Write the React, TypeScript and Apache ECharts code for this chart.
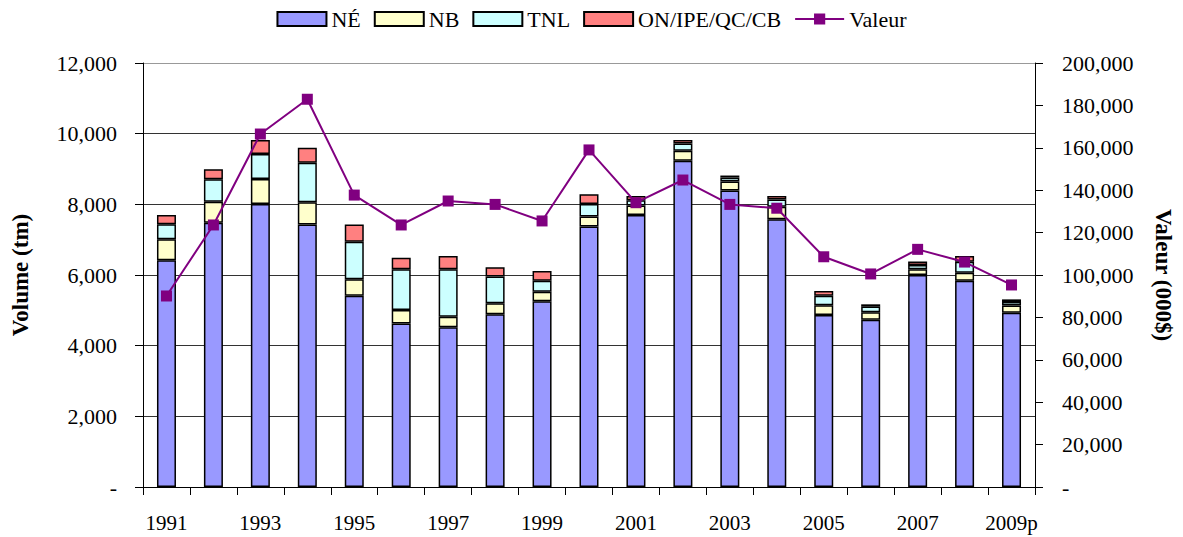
import React, { useEffect, useRef } from "react";
import * as echarts from "echarts";

const years = ["1991","1992","1993","1994","1995","1996","1997","1998","1999","2000","2001","2002","2003","2004","2005","2006","2007","2008","2009p"];
const ne  = [6420, 7480, 8010, 7430, 5410, 4630, 4520, 4890, 5260, 7370, 7700, 9230, 8390, 7580, 4870, 4730, 6000, 5840, 4930];
const nb  = [590, 595, 710, 630, 470, 380, 300, 310, 265, 285, 265, 285, 255, 350, 275, 215, 160, 225, 210];
const tnl = [425, 635, 705, 1115, 1060, 1150, 1340, 755, 310, 355, 150, 210, 110, 210, 265, 160, 125, 310, 95];
const on  = [265, 285, 395, 425, 490, 330, 375, 265, 275, 275, 120, 95, 60, 95, 135, 65, 95, 160, 75];
const valeur = [90100, 123600, 166500, 182900, 137700, 123600, 134900, 133300, 125500, 159000, 134100, 144800, 133300, 131500, 108600, 100500, 112100, 106100, 95300];

const FONT = "Liberation Serif";

export default function App() {
  const ref = useRef<HTMLDivElement>(null);
  useEffect(() => {
    if (!ref.current) return;
    const chart = echarts.init(ref.current, null, { renderer: "svg" });
    const fmt = (v: number) => (v === 0 ? "-" : v.toLocaleString("en-US"));
    const mkBar = (name: string, data: number[], color: string) => ({
      name,
      type: "bar",
      stack: "vol",
      data,
      barWidth: 19,
      itemStyle: { color, borderColor: "#000", borderWidth: 1.5 },
    });
    chart.setOption({
      animation: false,
      textStyle: { fontFamily: FONT },
      legend: {
        top: 3,
        left: "center",
        itemWidth: 49,
        itemHeight: 14,
        itemGap: 13,
        textStyle: { fontFamily: FONT, fontSize: 22, color: "#000" },
        data: [
          { name: "NÉ", icon: "rect" },
          { name: "NB", icon: "rect" },
          { name: "TNL", icon: "rect" },
          { name: "ON/IPE/QC/CB", icon: "rect" },
          { name: "Valeur" },
        ],
      },
      grid: { left: 143, right: 146, top: 63, bottom: 50 },
      xAxis: {
        type: "category",
        data: years,
        boundaryGap: true,
        axisLine: { lineStyle: { color: "#000", width: 1 } },
        axisTick: { show: true, interval: 0, length: 8, lineStyle: { color: "#000" } },
        axisLabel: { interval: 1, fontFamily: FONT, fontSize: 21, color: "#000", margin: 25 },
      },
      yAxis: [
        {
          type: "value",
          min: 0,
          max: 12000,
          interval: 2000,
          name: "Volume (tm)",
          nameLocation: "middle",
          nameGap: 111,
          nameRotate: 90,
          nameTextStyle: { fontFamily: FONT, fontSize: 23, fontWeight: "bold", color: "#000" },
          axisLine: { show: true, lineStyle: { color: "#000" } },
          axisTick: { show: true, length: 8, lineStyle: { color: "#000" } },
          axisLabel: { formatter: fmt, fontFamily: FONT, fontSize: 22, color: "#000", margin: 26 },
          splitLine: {
            show: true,
            lineStyle: { color: ["#333", "#333", "#333", "#333", "#333", "#333", "#999"], width: 1 },
          },
        },
        {
          type: "value",
          min: 0,
          max: 200000,
          interval: 20000,
          position: "right",
          name: "Valeur (000$)",
          nameLocation: "middle",
          nameGap: 117,
          nameRotate: -90,
          nameTextStyle: { fontFamily: FONT, fontSize: 23, fontWeight: "bold", color: "#000" },
          axisLine: { show: true, lineStyle: { color: "#000" } },
          axisTick: { show: true, length: 8, lineStyle: { color: "#000" } },
          axisLabel: { formatter: fmt, fontFamily: FONT, fontSize: 22, color: "#000", margin: 27 },
          splitLine: { show: false },
        },
      ],
      series: [
        mkBar("NÉ", ne, "#9999FF"),
        mkBar("NB", nb, "#FFFFCC"),
        mkBar("TNL", tnl, "#CCFFFF"),
        mkBar("ON/IPE/QC/CB", on, "#FF8080"),
        {
          name: "Valeur",
          type: "line",
          yAxisIndex: 1,
          data: valeur,
          symbol: "rect",
          symbolSize: 11,
          lineStyle: { color: "#800080", width: 2 },
          itemStyle: { color: "#800080" },
          z: 5,
        },
      ],
    });
    return () => chart.dispose();
  }, []);
  return <div ref={ref} style={{ width: 1183, height: 537, marginLeft: -8, marginTop: -8 }} />;
}
